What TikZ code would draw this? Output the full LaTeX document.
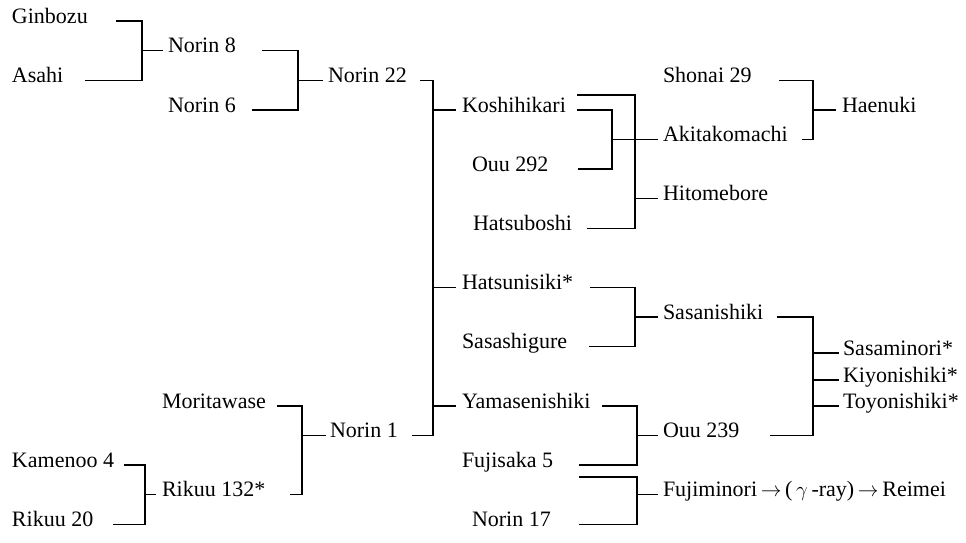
\documentclass[tikz,border=0pt]{standalone}
\usepackage{fontspec}
\setmainfont{Liberation Serif}
\begin{document}
\begin{tikzpicture}[x=1pt,y=-1pt,
  lbl/.style={anchor=mid west,inner sep=0pt,outer sep=0pt,font=\fontsize{22}{26}\selectfont},
  ln/.style={line width=1.4pt,line cap=rect}]
\useasboundingbox (0,0) rectangle (966,543);
% rows
\def\rA{21}\def\rB{50.6}\def\rC{80.2}\def\rD{109.8}\def\rE{139.4}\def\rF{169}
\def\rG{198.6}\def\rH{228.2}\def\rJ{287.4}\def\rK{317}\def\rL{346.6}
\def\rN{405.8}\def\rO{435.4}\def\rP{465}\def\rQ{494.6}\def\rR{524.2}
% nodes
\node[lbl] (gin) at (12,\rA) {Ginbozu};
\node[lbl] (asa) at (12,\rC) {Asahi};
\node[lbl] (n8) at (168,\rB) {Norin 8};
\node[lbl] (n6) at (168,\rD) {Norin 6};
\node[lbl] (n22) at (328,\rC) {Norin 22};
\node[lbl] (kosh) at (462,\rD) {Koshihikari};
\node[lbl] (ouuA) at (472,\rF) {Ouu 292};
\node[lbl] (hatsub) at (473,\rH) {Hatsuboshi};
\node[lbl] (hatsun) at (462,\rJ) {Hatsunisiki*};
\node[lbl] (sasag) at (462,\rL) {Sasashigure};
\node[lbl] (yama) at (462,\rN) {Yamasenishiki};
\node[lbl] (fujis) at (462,\rP) {Fujisaka 5};
\node[lbl] (nseven) at (472,\rR) {Norin 17};
\node[lbl] (mori) at (162,\rN) {Moritawase};
\node[lbl] (none) at (330,\rO) {Norin 1};
\node[lbl] (kame) at (12,\rP) {Kamenoo 4};
\node[lbl] (rikA) at (162,\rQ) {Rikuu 132*};
\node[lbl] (rikB) at (12,\rR) {Rikuu 20};
\node[lbl] (shon) at (663,\rC) {Shonai 29};
\node[lbl] (aki) at (663,\rE) {Akitakomachi};
\node[lbl] (hito) at (663,\rG) {Hitomebore};
\node[lbl] (hae) at (842,\rD) {Haenuki};
\node[lbl] (sasan) at (663,\rK) {Sasanishiki};
\node[lbl] (sasam) at (843,353) {Sasaminori*};
\node[lbl] (kiyo) at (843,380) {Kiyonishiki*};
\node[lbl] (toyo) at (843,406) {Toyonishiki*};
\node[lbl] (ouuB) at (663,\rO) {Ouu 239};
\node[lbl] (fujim) at (663,\rQ) {Fujiminori\,$\rightarrow$\,(\,$\gamma$\,-ray)\,$\rightarrow$\,Reimei};
% vertical bar positions
\coordinate (vA) at (142,0);
\coordinate (vB) at (298,0);
\coordinate (vC) at (433,0);
\coordinate (vD) at (612,0);
\coordinate (vE) at (635,0);
\coordinate (vF) at (813,0);
\coordinate (vG) at (635,0);
\coordinate (vH) at (813,0);
\coordinate (vI) at (637,0);
\coordinate (vJ) at (302,0);
\coordinate (vK) at (145,0);
% Ginbozu x Asahi -> Norin 8
\draw[ln] ([xshift=29]gin.mid east) -- (gin.mid east -| vA) -- (asa.mid east -| vA) -- ([xshift=22]asa.mid east);
\draw[ln] (n8.mid west -| vA) -- ([xshift=-6]n8.mid west);
% Norin 8 x Norin 6 -> Norin 22
\draw[ln] ([xshift=27]n8.mid east) -- (n8.mid east -| vB) -- (n6.mid east -| vB) -- ([xshift=17]n6.mid east);
\draw[ln] (n22.mid west -| vB) -- ([xshift=-6]n22.mid west);
% Norin 22 x Norin 1
\draw[ln] ([xshift=14]n22.mid east) -- (n22.mid east -| vC) -- (none.mid east -| vC) -- ([xshift=15]none.mid east);
\draw[ln] (kosh.mid west -| vC) -- ([xshift=-7]kosh.mid west);
\draw[ln] (hatsun.mid west -| vC) -- ([xshift=-7]hatsun.mid west);
\draw[ln] (yama.mid west -| vC) -- ([xshift=-7]yama.mid west);
% Koshihikari x Ouu 292 -> Akitakomachi
\draw[ln] ([xshift=12]kosh.mid east) -- (kosh.mid east -| vD) -- (ouuA.mid east -| vD) -- ([xshift=30]ouuA.mid east);
\draw[ln] (aki.mid west -| vD) -- ([xshift=-6]aki.mid west);
% Koshihikari x Hatsuboshi -> Hitomebore
\draw[ln] ([xshift=12,yshift=15]kosh.mid east) -- ([yshift=15]kosh.mid east -| vE) -- (hatsub.mid east -| vE) -- ([xshift=16]hatsub.mid east);
\draw[ln] (hito.mid west -| vE) -- ([xshift=-6]hito.mid west);
% Shonai 29 x Akitakomachi -> Haenuki
\draw[ln] ([xshift=28]shon.mid east) -- (shon.mid east -| vF) -- (aki.mid east -| vF) -- ([xshift=15]aki.mid east);
\draw[ln] (hae.mid west -| vF) -- ([xshift=-7]hae.mid west);
% Hatsunisiki x Sasashigure -> Sasanishiki
\draw[ln] ([xshift=17]hatsun.mid east) -- (hatsun.mid east -| vG) -- (sasag.mid east -| vG) -- ([xshift=23]sasag.mid east);
\draw[ln] (sasan.mid west -| vG) -- ([xshift=-6]sasan.mid west);
% Sasanishiki x Ouu 239 -> Sasaminori, Kiyonishiki, Toyonishiki
\draw[ln] ([xshift=14]sasan.mid east) -- (sasan.mid east -| vH) -- (ouuB.mid east -| vH) -- ([xshift=31]ouuB.mid east);
\draw[ln] (sasam.mid west -| vH) -- ([xshift=-5]sasam.mid west);
\draw[ln] (kiyo.mid west -| vH) -- ([xshift=-5]kiyo.mid west);
\draw[ln] (toyo.mid west -| vH) -- ([xshift=-5]toyo.mid west);
% Yamasenishiki x Fujisaka 5 -> Ouu 239
\draw[ln] ([xshift=12]yama.mid east) -- (yama.mid east -| vI) -- (fujis.mid east -| vI) -- ([xshift=27]fujis.mid east);
\draw[ln] (ouuB.mid west -| vI) -- ([xshift=-6]ouuB.mid west);
% Fujisaka 5 x Norin 17 -> Fujiminori
\draw[ln] ([xshift=27,yshift=-12]fujis.mid east) -- ([yshift=-12]fujis.mid east -| vI) -- (nseven.mid east -| vI) -- ([xshift=29]nseven.mid east);
\draw[ln] (fujim.mid west -| vI) -- ([xshift=-6]fujim.mid west);
% Moritawase x Rikuu 132* -> Norin 1
\draw[ln] ([xshift=12]mori.mid east) -- (mori.mid east -| vJ) -- (rikA.mid east -| vJ) -- ([xshift=25]rikA.mid east);
\draw[ln] (none.mid west -| vJ) -- ([xshift=-5]none.mid west);
% Kamenoo 4 x Rikuu 20 -> Rikuu 132*
\draw[ln] ([xshift=11]kame.mid east) -- (kame.mid east -| vK) -- (rikB.mid east -| vK) -- ([xshift=20]rikB.mid east);
\draw[ln] (rikA.mid west -| vK) -- ([xshift=-7]rikA.mid west);
\end{tikzpicture}
\end{document}
